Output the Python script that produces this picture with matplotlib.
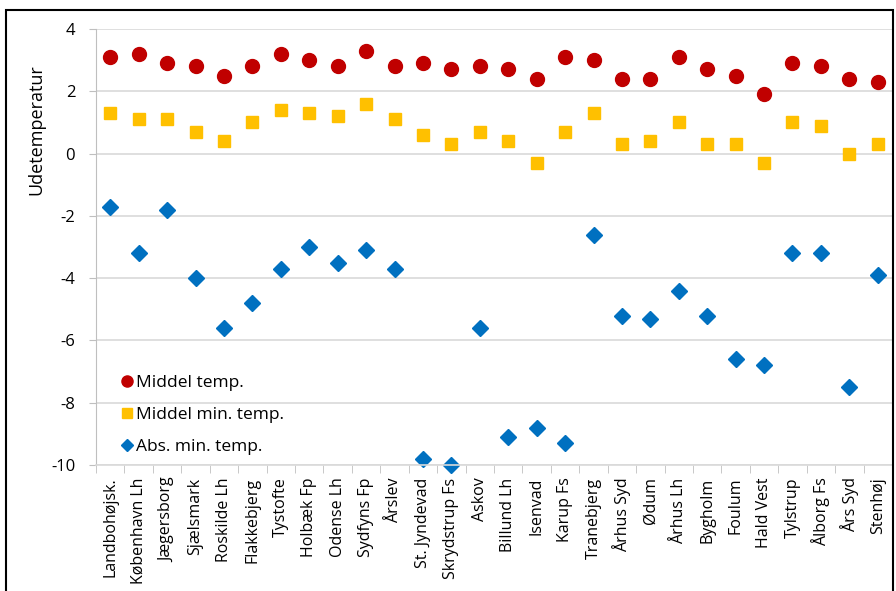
import matplotlib.pyplot as plt
from matplotlib.patches import Rectangle

stations = ['Landbohøjsk.', 'København Lh', 'Jægersborg', 'Sjælsmark', 'Roskilde Lh',
            'Flakkebjerg', 'Tystofte', 'Holbæk Fp', 'Odense Lh', 'Sydfyns Fp', 'Årslev',
            'St. Jyndevad', 'Skrydstrup Fs', 'Askov', 'Billund Lh', 'Isenvad', 'Karup Fs',
            'Tranebjerg', 'Århus Syd', 'Ødum', 'Århus Lh', 'Bygholm', 'Foulum', 'Hald Vest',
            'Tylstrup', 'Ålborg Fs', 'Års Syd', 'Stenhøj']

middel_temp = [3.1, 3.2, 2.9, 2.8, 2.5, 2.8, 3.2, 3.0, 2.8, 3.3, 2.8, 2.9, 2.7, 2.8,
               2.7, 2.4, 3.1, 3.0, 2.4, 2.4, 3.1, 2.7, 2.5, 1.9, 2.9, 2.8, 2.4, 2.3]
middel_min = [1.3, 1.1, 1.1, 0.7, 0.4, 1.0, 1.4, 1.3, 1.2, 1.6, 1.1, 0.6, 0.3, 0.7,
              0.4, -0.3, 0.7, 1.3, 0.3, 0.4, 1.0, 0.3, 0.3, -0.3, 1.0, 0.9, 0.0, 0.3]
abs_min = [-1.7, -3.2, -1.8, -4.0, -5.6, -4.8, -3.7, -3.0, -3.5, -3.1, -3.7, -9.8, -10.0, -5.6,
           -9.1, -8.8, -9.3, -2.6, -5.2, -5.3, -4.4, -5.2, -6.6, -6.8, -3.2, -3.2, -7.5, -3.9]

plt.rcParams['font.family'] = ['Open Sans', 'DejaVu Sans']

fig = plt.figure(figsize=(8.96, 5.91), dpi=100)
ax = fig.add_axes([96 / 896, 1 - 465 / 591, (892 - 96) / 896, (465 - 29) / 591])

x = range(len(stations))
ax.plot(x, middel_temp, 'o', color='#C00000', markersize=10, label='Middel temp.', clip_on=False)
ax.plot(x, middel_min, 's', color='#FFC000', markersize=9, label='Middel min. temp.', clip_on=False)
ax.plot(x, abs_min, 'D', color='#0070C0', markersize=8, label='Abs. min. temp.', clip_on=False)

ax.set_xlim(-0.5, len(stations) - 0.5)
ax.set_ylim(-10, 4)
ax.set_yticks(range(-10, 5, 2))
ax.set_yticklabels([str(v) for v in range(-10, 5, 2)], fontsize=12)
ax.grid(axis='y', color='#D9D9D9', linewidth=1.2)
ax.set_axisbelow(True)

ax.set_xticks(list(x))
ax.set_xticklabels(stations, rotation=90, fontsize=11.5)
ax.set_xticks([i - 0.5 for i in range(len(stations) + 1)], minor=True)
ax.tick_params(axis='x', which='major', length=0, pad=9)
ax.tick_params(axis='x', which='minor', length=6, color='#BFBFBF')
ax.tick_params(axis='y', length=5, color='#BFBFBF', pad=10)

for side in ['top', 'right']:
    ax.spines[side].set_visible(False)
ax.spines['left'].set_color('#BFBFBF')
ax.spines['bottom'].set_color('#D9D9D9')
ax.spines['bottom'].set_linewidth(1.2)

ax.set_ylabel('Udetemperatur', fontsize=13)
ax.yaxis.set_label_coords(-0.064, 0.77)

ax.legend(loc='lower left', bbox_to_anchor=(0.008, -0.012), frameon=False, fontsize=12.5,
          handletextpad=0.05, handlelength=1.0, labelspacing=0.9, markerscale=0.8)

fig.patches.append(Rectangle((6 / 896, -0.01), (893 - 6) / 896, 1 - 10 / 591 + 0.01,
                             transform=fig.transFigure, fill=False, edgecolor='black',
                             linewidth=1.5))

fig.savefig('out.png', dpi=100)
